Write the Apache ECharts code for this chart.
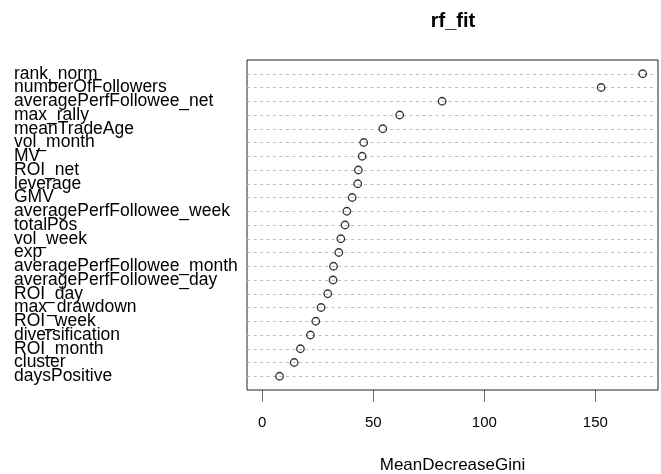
<!DOCTYPE html>
<html>
<head>
<meta charset="utf-8">
<script src="https://cdn.jsdelivr.net/npm/echarts@6/dist/echarts.min.js"></script>
<style>
  html, body { margin: 0; padding: 0; background: #fff; }
  #main { width: 661px; height: 474px; }
</style>
</head>
<body>
<div id="main"></div>
<script>
// variables, top to bottom (most important first)
var features = ['rank_norm', 'numberOfFollowers', 'averagePerfFollowee_net', 'max_rally',
  'meanTradeAge', 'vol_month', 'MV', 'ROI_net', 'leverage', 'GMV',
  'averagePerfFollowee_week', 'totalPos', 'vol_week', 'exp',
  'averagePerfFollowee_month', 'averagePerfFollowee_day', 'ROI_day',
  'max_drawdown', 'ROI_week', 'diversification', 'ROI_month', 'cluster', 'daysPositive'];
var gini = [171.3, 152.6, 81.0, 61.9, 54.3, 45.7, 45.0, 43.3, 43.0, 40.5,
  38.1, 37.3, 35.4, 34.5, 32.1, 31.9, 29.5, 26.5, 24.1, 21.7, 17.2, 14.4, 7.8];
var xTicks = [0, 50, 100, 150];

var myChart = echarts.init(document.getElementById('main'));

// R dotchart puts row 1 at the bottom; the first variable ends on top
var n = features.length;
var points = gini.map(function (v, i) { return [v, n - i]; });

myChart.setOption({
  animation: false,
  title: {
    text: 'rf_fit',
    left: 453,
    top: 11,
    padding: 0,
    textAlign: 'center',
    textStyle: { fontFamily: 'Liberation Sans', fontWeight: 'bold', fontSize: 20, color: '#000' }
  },
  grid: {
    left: 247, right: 3, top: 60, bottom: 84,
    outerBoundsMode: 'none',
    containLabel: false,
    show: true, borderColor: '#222', borderWidth: 1
  },
  xAxis: {
    type: 'value',
    min: -6.85,
    max: 178.2,
    name: 'MeanDecreaseGini',
    nameLocation: 'middle',
    nameGap: 67,
    nameTextStyle: { fontFamily: 'Liberation Sans', fontSize: 17, color: '#000' },
    axisLine: { show: false },
    splitLine: { show: false },
    axisTick: { show: false },
    axisLabel: {
      customValues: xTicks,
      margin: 1,
      // tick mark drawn as a glyph above each value
      formatter: function (v) { return '{t|\u2502}\n{v|' + v + '}'; },
      rich: {
        t: { fontFamily: 'DejaVu Sans Mono', fontSize: 10, lineHeight: 10, color: '#444' },
        v: { fontFamily: 'Liberation Sans', fontSize: 15, lineHeight: 44, color: '#000' }
      }
    }
  },
  yAxis: {
    type: 'value',
    min: 0,
    max: n + 1,
    interval: 1,
    axisLine: { show: false },
    axisTick: { show: false },
    splitLine: {
      show: true, showMinLine: false, showMaxLine: false,
      lineStyle: { color: '#bdbdbd', type: [3, 3.5], width: 1 }
    },
    axisLabel: {
      align: 'left',
      margin: 233,
      fontFamily: 'Liberation Sans', fontSize: 17.5, color: '#000',
      formatter: function (v) { return features[n - v] || ''; }
    }
  },
  series: [{
    name: 'MeanDecreaseGini',
    type: 'scatter',
    data: points,
    symbol: 'circle',
    symbolSize: 7.5,
    itemStyle: { color: 'rgba(0,0,0,0)', borderColor: '#000', borderWidth: 1.3 }
  }]
});
</script>
</body>
</html>
